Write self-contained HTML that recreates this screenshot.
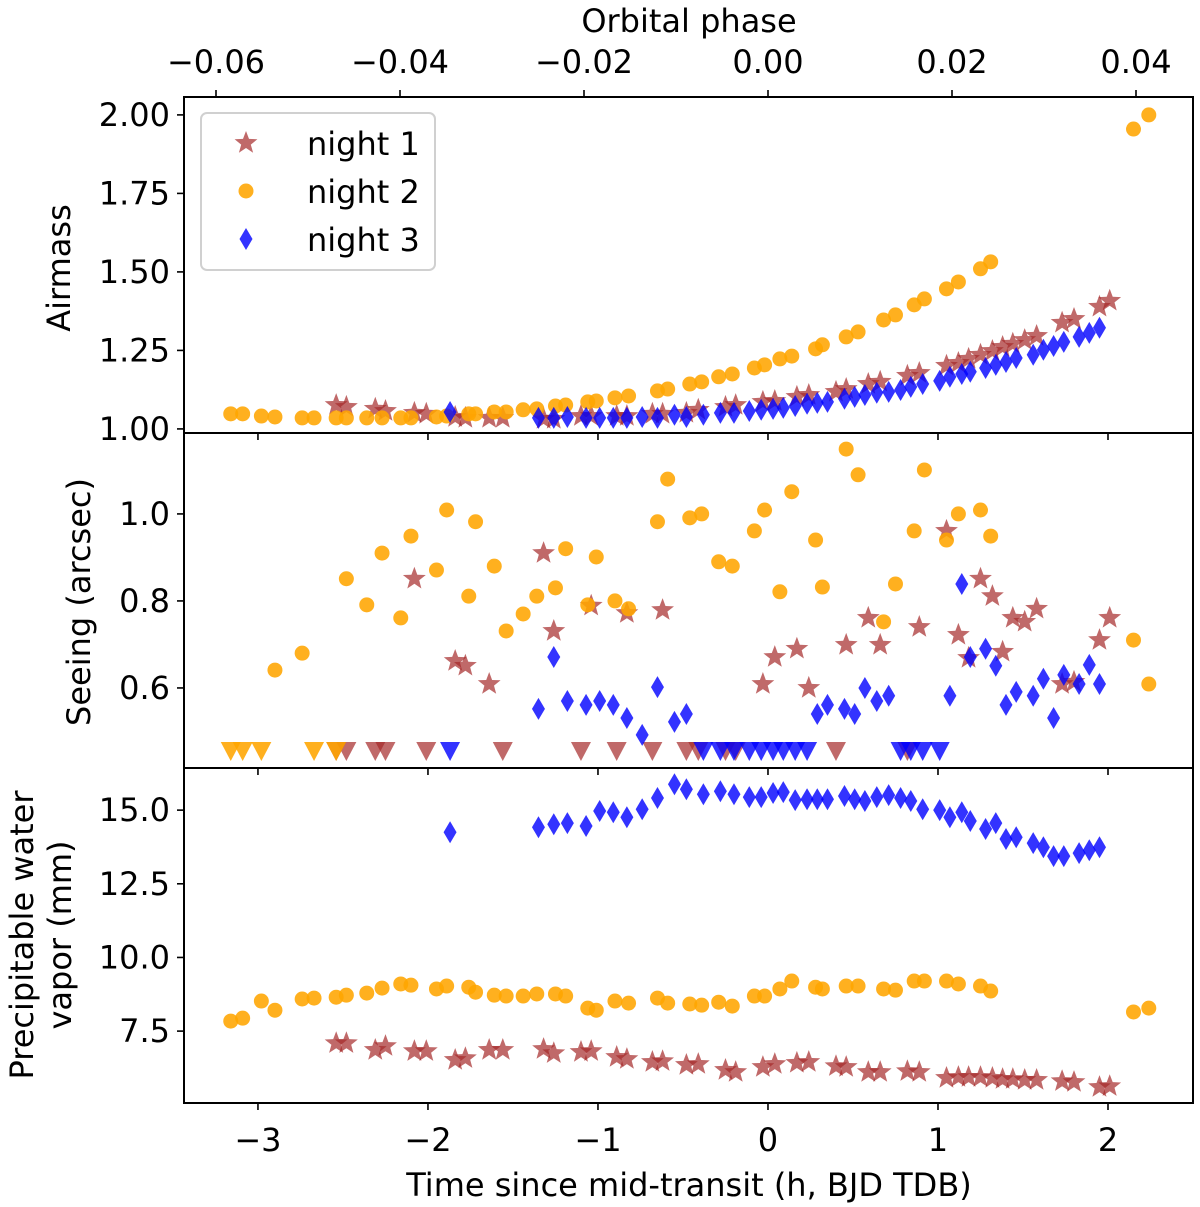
<!DOCTYPE html>
<html><head><meta charset="utf-8"><style>
html,body{margin:0;padding:0;background:#fff}
svg{display:block;font-family:"DejaVu Sans","Liberation Sans",sans-serif}
</style></head><body>
<svg id="chart" width="1200" height="1207" viewBox="0 0 1200 1207" xmlns="http://www.w3.org/2000/svg"></svg>
<script>
// ---- data ----
const n1Time=[-2.54,-2.48,-2.31,-2.25,-2.08,-2.01,-1.84,-1.78,-1.64,-1.56,-1.32,-1.26,-1.10,-1.04,-0.89,-0.83,-0.68,-0.62,-0.48,-0.41,-0.25,-0.19,-0.03,0.04,0.17,0.24,0.40,0.46,0.59,0.66,0.82,0.89,1.05,1.12,1.18,1.25,1.32,1.38,1.44,1.51,1.58,1.73,1.80,1.95,2.01];
const n1Airmass=[1.076,1.070,1.064,1.057,1.051,1.048,1.038,1.035,1.035,1.035,1.032,1.032,1.041,1.041,1.041,1.041,1.048,1.048,1.051,1.061,1.070,1.076,1.086,1.089,1.102,1.108,1.118,1.127,1.143,1.150,1.169,1.178,1.201,1.210,1.223,1.236,1.248,1.261,1.271,1.283,1.296,1.338,1.350,1.389,1.408];
const n1Seeing=[null,null,null,null,0.851,null,0.662,0.651,0.609,null,0.910,0.731,null,0.789,null,0.772,null,0.779,null,null,null,null,0.609,0.671,0.690,0.600,null,0.699,0.761,0.699,null,0.740,0.961,0.722,0.669,0.851,0.811,0.683,0.761,0.752,0.782,0.609,0.614,0.710,0.761];
const n1Pwv=[7.09,7.09,6.86,6.99,6.82,6.82,6.52,6.58,6.86,6.86,6.89,6.75,6.79,6.82,6.62,6.55,6.45,6.48,6.35,6.38,6.18,6.11,6.28,6.38,6.42,6.45,6.31,6.28,6.11,6.11,6.14,6.11,5.91,5.94,5.94,5.94,5.91,5.87,5.87,5.84,5.84,5.80,5.77,5.60,5.63];

const n2Time=[-3.16,-3.09,-2.98,-2.90,-2.74,-2.67,-2.54,-2.48,-2.36,-2.27,-2.16,-2.10,-1.95,-1.89,-1.76,-1.72,-1.61,-1.54,-1.44,-1.36,-1.25,-1.19,-1.06,-1.01,-0.90,-0.82,-0.65,-0.59,-0.46,-0.39,-0.29,-0.21,-0.08,-0.02,0.07,0.14,0.28,0.32,0.46,0.53,0.68,0.75,0.86,0.92,1.05,1.12,1.25,1.31,2.15,2.24];
const n2Airmass=[1.048,1.048,1.041,1.038,1.035,1.035,1.035,1.035,1.035,1.035,1.035,1.035,1.038,1.041,1.048,1.048,1.054,1.054,1.061,1.064,1.073,1.076,1.086,1.089,1.099,1.105,1.121,1.127,1.143,1.150,1.166,1.175,1.194,1.204,1.223,1.232,1.255,1.268,1.293,1.309,1.347,1.363,1.395,1.414,1.446,1.468,1.510,1.532,1.955,2.000];
const n2Seeing=[null,null,null,0.641,0.680,null,null,0.851,0.791,0.910,0.761,0.949,0.871,1.009,0.811,0.982,0.880,0.731,0.770,0.811,0.830,0.920,0.791,0.901,0.800,0.782,0.982,1.080,0.991,1.000,0.890,0.880,0.961,1.009,0.821,1.051,0.940,0.832,1.149,1.090,0.752,0.839,0.961,1.101,0.940,1.000,1.009,0.949,0.710,0.609];
const n2Pwv=[7.84,7.94,8.52,8.21,8.59,8.62,8.65,8.72,8.79,8.96,9.10,9.06,8.93,9.03,8.99,8.82,8.72,8.69,8.69,8.76,8.76,8.69,8.28,8.21,8.52,8.45,8.62,8.45,8.42,8.38,8.48,8.35,8.69,8.69,8.93,9.20,8.99,8.93,9.03,9.03,8.93,8.89,9.20,9.20,9.20,9.10,9.03,8.86,8.15,8.28];

const n3Time=[-1.87,-1.35,-1.26,-1.18,-1.07,-0.99,-0.91,-0.83,-0.74,-0.65,-0.55,-0.48,-0.38,-0.28,-0.20,-0.11,-0.04,0.03,0.09,0.16,0.23,0.29,0.35,0.45,0.51,0.57,0.64,0.71,0.78,0.84,0.91,1.01,1.07,1.14,1.19,1.28,1.34,1.40,1.46,1.56,1.62,1.68,1.74,1.83,1.89,1.95];
const n3Airmass=[1.054,1.035,1.035,1.038,1.035,1.035,1.035,1.035,1.038,1.035,1.045,1.038,1.045,1.051,1.051,1.057,1.061,1.064,1.067,1.073,1.080,1.083,1.086,1.096,1.102,1.108,1.115,1.118,1.124,1.134,1.143,1.153,1.166,1.175,1.182,1.194,1.204,1.213,1.226,1.236,1.252,1.264,1.277,1.293,1.306,1.322];
const n3Seeing=[null,0.552,0.671,0.570,0.561,0.570,0.561,0.531,0.492,0.602,0.522,0.540,null,null,null,null,null,null,null,null,null,0.540,0.561,0.552,0.540,0.600,0.570,0.582,null,null,null,null,0.582,0.839,0.671,0.690,0.651,0.561,0.591,0.582,0.621,0.531,0.630,0.609,0.653,0.609];
const n3Pwv=[14.25,14.42,14.52,14.56,14.46,14.97,14.93,14.76,15.03,15.41,15.88,15.71,15.54,15.64,15.54,15.44,15.44,15.58,15.61,15.34,15.37,15.37,15.37,15.48,15.37,15.31,15.44,15.51,15.41,15.31,15.03,15.00,14.76,14.93,14.63,14.36,14.56,14.02,14.08,13.88,13.74,13.44,13.44,13.54,13.64,13.74];

const xTicks=[-3,-2,-1,0,1,2];
const xTickLabels=["−3","−2","−1","0","1","2"];
const phaseTicks=[-0.06,-0.04,-0.02,0.00,0.02,0.04];
const phaseTickLabels=["−0.06","−0.04","−0.02","0.00","0.02","0.04"];
const airmassTicks=[1.00,1.25,1.50,1.75,2.00];
const airmassTickLabels=["1.00","1.25","1.50","1.75","2.00"];
const seeingTicks=[0.6,0.8,1.0];
const seeingTickLabels=["0.6","0.8","1.0"];
const pwvTicks=[7.5,10.0,12.5,15.0];
const pwvTickLabels=["7.5","10.0","12.5","15.0"];
const seeingLimit=0.455;

// ---- layout ----
const L=184,R=1193;
const X0=-3.435,X1=2.5;
const xS=t=>L+(t-X0)/(X1-X0)*(R-L);
const phS=p=>768+p*9200;
const panels=[
 {name:'airmass',top:97,bot:433,y0:0.987,y1:2.057},
 {name:'seeing',top:433,bot:768,y0:0.416,y1:1.186},
 {name:'pwv',top:768,bot:1103,y0:5.06,y1:16.43}
];
const yS=(p,v)=>p.bot-(v-p.y0)/(p.y1-p.y0)*(p.bot-p.top);

const svg=document.getElementById('chart');
const NS='http://www.w3.org/2000/svg';
function mk(tag,attrs,parent){const e=document.createElementNS(NS,tag);for(const k in attrs)e.setAttribute(k,attrs[k]);(parent||svg).appendChild(e);return e;}

const C1='#a52a2a',C2='#ffa500',C3='#0000ff';
const TF=32;
function star(g,cx,cy,r){let pts=[];for(let i=0;i<10;i++){const a=-Math.PI/2+i*Math.PI/5;const rr=i%2?r*0.42:r;pts.push((cx+rr*Math.cos(a)).toFixed(1)+','+(cy+rr*Math.sin(a)).toFixed(1));}
 const e=mk('polygon',{points:pts.join(' '),fill:C1,'fill-opacity':0.7},g);return e;}
function circ(g,cx,cy){return mk('circle',{cx:cx,cy:cy,r:7.5,fill:C2,'fill-opacity':0.88},g);}
function diam(g,cx,cy){return mk('polygon',{points:`${cx},${cy-11} ${cx+6.5},${cy} ${cx},${cy+11} ${cx-6.5},${cy}`,fill:C3,'fill-opacity':0.8},g);}
function tri(g,cx,cy,col,op){return mk('polygon',{points:`${cx-10},${cy-9} ${cx+10},${cy-9} ${cx},${cy+10}`,fill:col,'fill-opacity':op},g);}

const series=[
 {key:'night-1',t:n1Time,v:[n1Airmass,n1Seeing,n1Pwv],draw:(g,x,y)=>star(g,x,y,12),col:C1,op:0.7},
 {key:'night-2',t:n2Time,v:[n2Airmass,n2Seeing,n2Pwv],draw:circ,col:C2,op:0.88},
 {key:'night-3',t:n3Time,v:[n3Airmass,n3Seeing,n3Pwv],draw:diam,col:C3,op:0.8}
];

panels.forEach((p,pi)=>{
 const pg=mk('g',{});
 
 
 const clipId='clip'+pi;
 const cp=mk('clipPath',{id:clipId},pg);mk('rect',{x:L,y:p.top,width:R-L,height:p.bot-p.top},cp);
 series.forEach(s=>{
  const g=mk('g',{'clip-path':`url(#${clipId})`},pg);
  
  
  s.t.forEach((t,i)=>{
   const v=s.v[pi][i];
   let m;
   if(v===null){m=tri(g,xS(t),yS(p,seeingLimit),s.col,s.op);}
   else m=s.draw(g,xS(t),yS(p,v));
   
   
  });
 });
 const fr=mk('rect',{x:L,y:p.top,width:R-L,height:p.bot-p.top,fill:'none',stroke:'#000','stroke-width':2},pg);
 
 
 xTicks.forEach((t,i)=>{
  const x=xS(t);
  mk('line',{x1:x,x2:x,y1:p.bot,y2:p.bot+7,stroke:'#000','stroke-width':1.6},pg);
  if(pi===2){const tx=mk('text',{x:x,y:p.bot+48,'font-size':TF,'text-anchor':'middle'},pg);tx.textContent=xTickLabels[i];
   }
 });
 if(pi===0){phaseTicks.forEach((ph,i)=>{const x=phS(ph);
  mk('line',{x1:x,x2:x,y1:p.top,y2:p.top-7,stroke:'#000','stroke-width':1.6},pg);
  const tx=mk('text',{x:x,y:p.top-24,'font-size':TF,'text-anchor':'middle'},pg);tx.textContent=phaseTickLabels[i];
  });}
 const yt=[airmassTicks,seeingTicks,pwvTicks][pi], yl=[airmassTickLabels,seeingTickLabels,pwvTickLabels][pi];
 yt.forEach((v,i)=>{const y=yS(p,v);
  mk('line',{x1:L,x2:L-7,y1:y,y2:y,stroke:'#000','stroke-width':1.6},pg);
  const tx=mk('text',{x:L-14,y:y+11,'font-size':TF,'text-anchor':'end'},pg);tx.textContent=yl[i];
  });
});

function label(txt,x,y,rot,name){const t=mk('text',{x:x,y:y,'font-size':32,'text-anchor':'middle',transform:rot?`rotate(-90 ${x} ${y})`:''});t.textContent=txt;
 return t;}
label('Airmass',70,268,true,'airmass-axis-title');
label('Seeing (arcsec)',90,602,true,'seeing-axis-title');
label('Precipitable water',33,935,true,'pwv-axis-title-line1');
label('vapor (mm)',71,935,true,'pwv-axis-title-line2');
label('Time since mid-transit (h, BJD TDB)',689,1196,false,'x-axis-title');
label('Orbital phase',689,32,false,'phase-axis-title');

const lg=mk('g',{});


mk('rect',{x:201,y:113,width:234,height:157,rx:6,fill:'#fff','fill-opacity':0.8,stroke:'#d0d0d0','stroke-width':2},lg);
const legendLabels=['night 1','night 2','night 3'];
series.forEach((s,i)=>{const y=143+i*48;
 const e=mk('g',{},lg);
 
 
 s.draw(e,246,y);
 const t=mk('text',{x:307,y:y+12,'font-size':32},e);t.textContent=legendLabels[i];
});
</script>
</body></html>
